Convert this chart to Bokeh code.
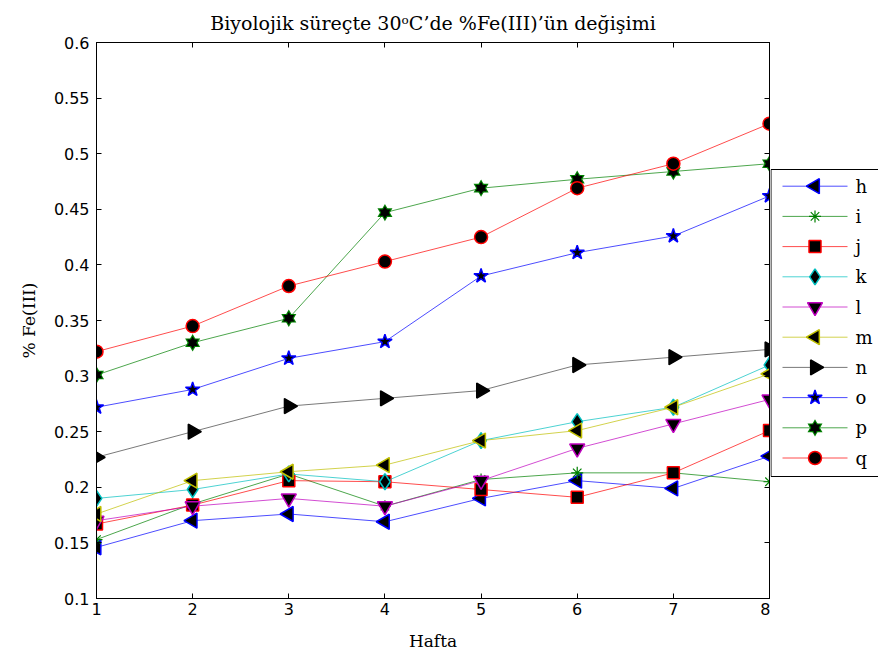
import numpy as np
from bokeh.plotting import figure
from bokeh.layouts import row
from bokeh.models import (Range1d, LinearAxis, FixedTicker, CustomJSTickFormatter)
from bokeh.core.properties import value
from bokeh.embed import file_html
from bokeh.resources import INLINE

# ---- data: weekly %Fe(III) values for each sample ----
weeks = [1, 2, 3, 4, 5, 6, 7, 8]
h = [0.146, 0.170, 0.176, 0.169, 0.190, 0.206, 0.199, 0.228]
i = [0.153, 0.185, 0.212, 0.183, 0.207, 0.213, 0.213, 0.205]
j = [0.167, 0.184, 0.206, 0.205, 0.198, 0.191, 0.213, 0.251]
k = [0.190, 0.198, 0.212, 0.205, 0.242, 0.259, 0.272, 0.310]
l = [0.170, 0.183, 0.190, 0.183, 0.206, 0.235, 0.257, 0.279]
m = [0.176, 0.206, 0.214, 0.220, 0.242, 0.251, 0.272, 0.302]
n = [0.227, 0.250, 0.273, 0.280, 0.287, 0.310, 0.317, 0.324]
o = [0.272, 0.288, 0.316, 0.331, 0.390, 0.411, 0.426, 0.462]
p_vals = [0.301, 0.330, 0.352, 0.447, 0.469, 0.477, 0.484, 0.491]
q = [0.322, 0.345, 0.381, 0.403, 0.425, 0.469, 0.491, 0.527]

series_labels = ["h", "i", "j", "k", "l", "m", "n", "o", "p", "q"]
series_values = [h, i, j, k, l, m, n, o, p_vals, q]

x_ticks = [1, 2, 3, 4, 5, 6, 7, 8]
y_ticks = [0.1, 0.15, 0.2, 0.25, 0.3, 0.35, 0.4, 0.45, 0.5, 0.55, 0.6]

# MATLAB-like colour order
BLUE, GREEN, RED = "#0000ff", "#008000", "#ff0000"
CYAN, MAGENTA, YELLOW, DARK = "#00bfbf", "#bf00bf", "#bfbf00", "#404040"
colors = [BLUE, GREEN, RED, CYAN, MAGENTA, YELLOW, DARK, BLUE, GREEN, RED]

SERIF = "DejaVu Serif"
SANS = "DejaVu Sans"
EDGE = 1.5


def add_markers(fig, lab, xs, ys, col):
    """MATLAB-style marker for one series."""
    mk = dict(fill_color="black", line_color=col, line_width=EDGE)
    if lab in ("h", "m"):
        fig.scatter(xs, ys, marker="triangle", angle=np.pi / 2, size=15, **mk)
    elif lab == "i":
        fig.scatter(xs, ys, marker="asterisk", size=12, line_color=col, line_width=1.2)
    elif lab == "j":
        fig.scatter(xs, ys, marker="square", size=12, **mk)
    elif lab == "k":
        fig.scatter(xs, ys, marker="diamond", size=16, **mk)
    elif lab == "l":
        fig.scatter(xs, ys, marker="inverted_triangle", size=15, **mk)
    elif lab == "n":
        fig.scatter(xs, ys, marker="triangle", angle=-np.pi / 2, size=15,
                    fill_color="black", line_color="black", line_width=EDGE)
    elif lab == "o":
        fig.scatter(xs, ys, marker="star", size=15, **mk)
    elif lab == "p":
        # six-pointed star built from two opposed triangles
        for mname in ("triangle", "inverted_triangle"):
            fig.scatter(xs, ys, marker=mname, size=15, fill_color=col, line_color=None)
        for mname in ("triangle", "inverted_triangle"):
            fig.scatter(xs, ys, marker=mname, size=11, fill_color="black", line_color=None)
    elif lab == "q":
        fig.scatter(xs, ys, marker="circle", size=13, **mk)


# ---------------- main plot ----------------
p = figure(width=770, height=659, output_backend="svg", toolbar_location=None,
           x_range=Range1d(1, 8), y_range=Range1d(0.1, 0.6),
           min_border_left=96, min_border_right=1,
           min_border_top=42, min_border_bottom=61,
           title="Biyolojik süreçte 30ᵒC’de %Fe(III)’ün değişimi")

p.title.text_font = SERIF
p.title.text_font_style = "normal"
p.title.text_font_size = "19px"
p.title.align = "center"
p.title.text_color = "black"
p.title.standoff = 17

p.grid.visible = False
p.outline_line_color = "black"
p.outline_line_width = 1
p.background_fill_color = "white"
p.border_fill_color = "white"

p.xaxis.ticker = FixedTicker(ticks=x_ticks)
p.yaxis.ticker = FixedTicker(ticks=y_ticks)
p.yaxis.formatter = CustomJSTickFormatter(code="return tick.toFixed(2).replace(/0$/, '');")
for ax in (p.xaxis[0], p.yaxis[0]):
    ax.major_tick_in = 5
    ax.major_tick_out = 0
    ax.minor_tick_line_color = None
    ax.axis_line_color = "black"
    ax.major_tick_line_color = "black"
    ax.major_label_text_font = SANS
    ax.major_label_text_font_size = "16px"
    ax.major_label_text_color = "black"
    ax.axis_label_text_font = SERIF
    ax.axis_label_text_font_style = "normal"
    ax.axis_label_text_font_size = "17px"
    ax.axis_label_text_color = "black"

p.xaxis.axis_label = "Hafta"
p.xaxis.major_label_standoff = 4
p.xaxis.axis_label_standoff = 13
p.yaxis.axis_label = "% Fe(III)"
p.yaxis.major_label_standoff = 7
p.yaxis.axis_label_standoff = 12

# tick marks on the opposite sides of the box (no labels there)
blank = CustomJSTickFormatter(code="return '';")
for side, ticks in (("right", y_ticks), ("above", x_ticks)):
    extra = LinearAxis(ticker=FixedTicker(ticks=ticks), formatter=blank,
                       major_label_standoff=0,
                       major_tick_in=5, major_tick_out=0,
                       minor_tick_line_color=None, axis_line_color="black")
    p.add_layout(extra, side)

for lab, vals, col in zip(series_labels, series_values, colors):
    p.line(weeks, vals, line_color=col, line_width=1, line_alpha=0.7)
    add_markers(p, lab, weeks, vals, col)

# ---------------- legend panel (canvas pixel coordinates, y downwards) ----------------
# the row aligns this panel's frame with the main frame (y 42..598)
LEG_W = 108
leg = figure(width=LEG_W, height=659, output_backend="svg", toolbar_location=None,
             x_range=Range1d(0, LEG_W), y_range=Range1d(598, 42),
             min_border=0, min_border_left=0, min_border_right=0,
             min_border_top=42, min_border_bottom=61)
leg.axis.visible = False
leg.grid.visible = False
leg.outline_line_color = None
leg.background_fill_color = "white"
leg.border_fill_color = "white"

BOX_LEFT, BOX_TOP, BOX_BOTTOM = 0.5, 169, 476
ROW0, ROW_STEP = 185.7, 30.2
SAMPLE_X0, SAMPLE_X1, LABEL_X = 12, 77, 85

leg.quad(left=[BOX_LEFT], right=[LEG_W + 5], top=[BOX_TOP], bottom=[BOX_BOTTOM],
         fill_color="white", line_color="black", line_width=1)

for idx, (lab, col) in enumerate(zip(series_labels, colors)):
    yc = ROW0 + ROW_STEP * idx
    leg.line([SAMPLE_X0, SAMPLE_X1], [yc, yc], line_color=col, line_width=1, line_alpha=0.7)
    add_markers(leg, lab, [(SAMPLE_X0 + SAMPLE_X1) / 2], [yc], col)
    leg.text([LABEL_X], [yc], text=[lab], text_font=value(SERIF), text_font_size="18px",
             text_color="black", text_align="left", text_baseline="middle")

open("out.html", "w").write(file_html(row(p, leg), INLINE))
